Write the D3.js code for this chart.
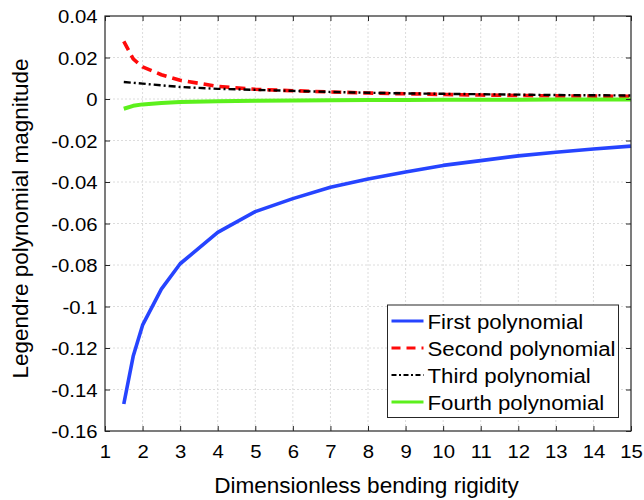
<!DOCTYPE html>
<html>
<head>
<meta charset="utf-8">
<script src="https://cdn.jsdelivr.net/npm/d3@7"></script>
<style>
  html, body { margin: 0; padding: 0; background: #fff; }
  svg { display: block; font-family: "Liberation Sans", Arial, Helvetica, sans-serif; }
</style>
</head>
<body>
<svg id="chart" width="644" height="500"></svg>
<script>
// Bending rigidity values at which the coefficients were evaluated
const rigidity = [1.5, 1.75, 2, 2.5, 3, 4, 5, 6, 7, 8, 9, 10, 11, 12, 13, 14, 15];

// Legendre polynomial coefficient magnitudes
const firstPoly  = [-0.147, -0.124, -0.109, -0.0916, -0.0794, -0.0643, -0.0543, -0.048, -0.0425, -0.0386, -0.0352, -0.032, -0.0297, -0.0274, -0.0257, -0.0241, -0.0227];
const secondPoly = [0.0278, 0.0193, 0.0155, 0.0117, 0.0090, 0.0061, 0.0047, 0.0040, 0.0034, 0.0029, 0.0025, 0.0022, 0.0019, 0.0017, 0.0015, 0.0014, 0.0013];
const thirdPoly  = [0.0082, 0.0078, 0.0074, 0.0066, 0.0058, 0.0049, 0.0044, 0.0039, 0.0034, 0.0030, 0.0027, 0.0025, 0.0023, 0.0021, 0.0019, 0.0018, 0.0017];
const fourthPoly = [-0.0047, -0.0033, -0.0026, -0.0019, -0.0015, -0.0011, -0.0008, -0.0007, -0.0006, -0.0005, -0.0005, -0.0004, -0.0004, -0.0004, -0.0003, -0.0003, -0.0003];

const seriesNames = ["First polynomial", "Second polynomial", "Third polynomial", "Fourth polynomial"];

// Tick values
const xTicks = [1, 2, 3, 4, 5, 6, 7, 8, 9, 10, 11, 12, 13, 14, 15];
const yTicks = [0.04, 0.02, 0, -0.02, -0.04, -0.06, -0.08, -0.1, -0.12, -0.14, -0.16];

const series = [
  { name: seriesNames[0], values: firstPoly,  color: "#2644ff", width: 3.6, dash: null,      legendWidth: 3.2, legendDash: null },
  { name: seriesNames[1], values: secondPoly, color: "#ff0a0a", width: 3.6, dash: "10,6",    legendWidth: 3.2, legendDash: "9,6" },
  { name: seriesNames[2], values: thirdPoly,  color: "#000000", width: 2.4, dash: "7,3,2,3", legendWidth: 2.2, legendDash: "5,2.5,2,2.5" },
  { name: seriesNames[3], values: fourthPoly, color: "#5cf01c", width: 4.0, dash: null,      legendWidth: 3.2, legendDash: null }
];

const svg = d3.select("#chart");
const plotL = 105, plotR = 631, plotT = 16, plotB = 431;

const x = d3.scaleLinear().domain([1, 15]).range([plotL, plotR]);
const y = d3.scaleLinear().domain([-0.16, 0.04]).range([plotB, plotT]);

const fmtY = d => d === 0 ? "0" : String(+d.toFixed(2));
const axisColor = "#262626";
const wide = 1.07; // slightly wide lettering

// Dotted grid
const grid = svg.append("g");
grid.selectAll("line.gx").data(xTicks.slice(1, -1)).join("line")
  .attr("x1", d => x(d)).attr("x2", d => x(d))
  .attr("y1", plotT).attr("y2", plotB)
  .attr("stroke", "#dcdcdc").attr("stroke-width", 1).attr("stroke-dasharray", "2,2");
grid.selectAll("line.gy").data(yTicks.slice(1, -1)).join("line")
  .attr("x1", plotL).attr("x2", plotR)
  .attr("y1", d => y(d)).attr("y2", d => y(d))
  .attr("stroke", "#dcdcdc").attr("stroke-width", 1).attr("stroke-dasharray", "2,2");

// Data lines
const line = d3.line()
  .x((d, i) => x(rigidity[i]))
  .y(d => y(d));

const plot = svg.append("g");
series.forEach(s => {
  plot.append("path")
    .datum(s.values)
    .attr("d", line)
    .attr("fill", "none")
    .attr("stroke", s.color)
    .attr("stroke-width", s.width)
    .attr("stroke-linejoin", "round")
    .attr("stroke-dasharray", s.dash);
});

// Axes with inward ticks on all four sides
const tickLen = 5;
const xAxis = svg.append("g").attr("transform", `translate(0,${plotB})`)
  .call(d3.axisBottom(x).tickValues(xTicks).tickSizeInner(-tickLen).tickSizeOuter(0).tickPadding(14).tickFormat(d3.format("d")));
const xAxisTop = svg.append("g").attr("transform", `translate(0,${plotT})`)
  .call(d3.axisTop(x).tickValues(xTicks).tickSizeInner(-tickLen).tickSizeOuter(0).tickFormat(""));
const yAxis = svg.append("g").attr("transform", `translate(${plotL},0)`)
  .call(d3.axisLeft(y).tickValues(yTicks).tickSizeInner(-tickLen).tickSizeOuter(0).tickPadding(7).tickFormat(fmtY));
const yAxisRight = svg.append("g").attr("transform", `translate(${plotR},0)`)
  .call(d3.axisRight(y).tickValues(yTicks).tickSizeInner(-tickLen).tickSizeOuter(0).tickFormat(""));

[xAxis, xAxisTop, yAxis, yAxisRight].forEach(g => {
  g.select(".domain").remove();
  g.selectAll(".tick line").attr("stroke", axisColor).attr("stroke-width", 1);
  g.selectAll(".tick text")
    .attr("fill", "#000")
    .attr("transform", `scale(${wide},1)`)
    .style("font-size", "19px");
});
xAxis.selectAll(".tick text").attr("dy", "0.71em");
yAxis.selectAll(".tick text").attr("dy", "0.36em");

// Box
svg.append("rect")
  .attr("x", plotL).attr("y", plotT)
  .attr("width", plotR - plotL).attr("height", plotB - plotT)
  .attr("fill", "none").attr("stroke", axisColor).attr("stroke-width", 1.2);

// Axis titles
svg.append("text")
  .attr("transform", `translate(${(plotL + plotR) / 2 - 1.5},492.5) scale(1.05,1)`)
  .attr("text-anchor", "middle")
  .style("font-size", "21.5px")
  .text("Dimensionless bending rigidity");

svg.append("text")
  .attr("transform", `translate(28,${(plotT + plotB) / 2 - 5}) rotate(-90)`)
  .attr("text-anchor", "middle")
  .style("font-size", "22.5px")
  .text("Legendre polynomial magnitude");

// Legend
const lg = svg.append("g");
lg.append("rect")
  .attr("x", 387.5).attr("y", 305)
  .attr("width", 231).attr("height", 112.5)
  .attr("fill", "#fff").attr("stroke", axisColor).attr("stroke-width", 1);
const rowY = d3.scalePoint().domain(seriesNames).range([321, 402]);
series.forEach(s => {
  const yy = rowY(s.name);
  lg.append("line")
    .attr("x1", 391.5).attr("x2", 423.5)
    .attr("y1", yy).attr("y2", yy)
    .attr("stroke", s.color)
    .attr("stroke-width", s.legendWidth)
    .attr("stroke-dasharray", s.legendDash);
  lg.append("text")
    .attr("transform", `translate(427.5,${yy}) scale(1.06,1)`)
    .attr("dy", "0.36em")
    .style("font-size", "21px")
    .text(s.name);
});
</script>
</body>
</html>
